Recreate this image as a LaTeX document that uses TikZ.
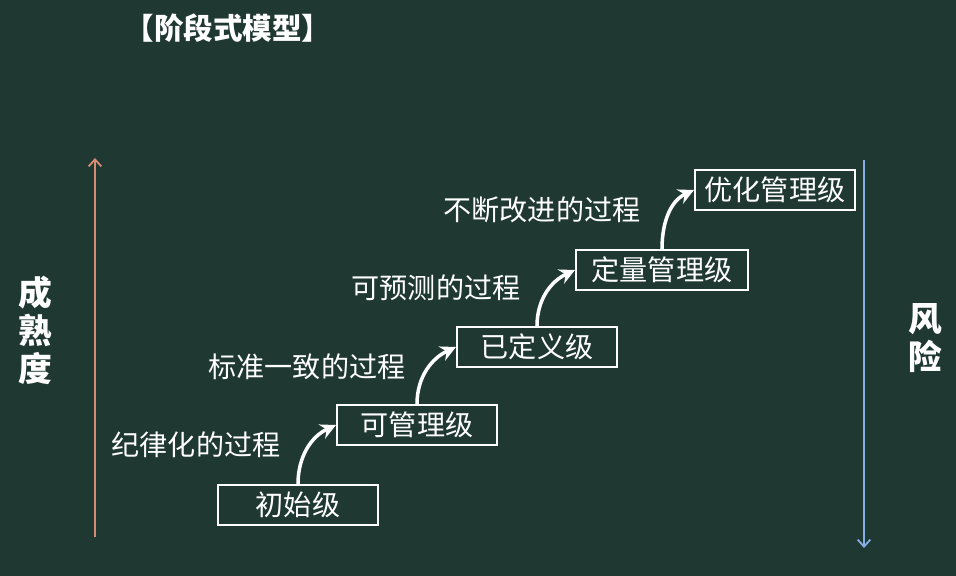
\documentclass[tikz,border=0pt]{standalone}
\usepackage{fontspec}
\newfontfamily\cjk{Noto Sans CJK SC}
\usetikzlibrary{arrows.meta}

\definecolor{board}{HTML}{1F3831}
\definecolor{upline}{HTML}{D68C72}
\definecolor{downline}{HTML}{86AEE6}

\tikzset{
  level/.style={draw=white, line width=1.4pt, minimum width=4cm, minimum height=1cm,
    text=white, font=\cjk\fontsize{20}{20}\selectfont},
  proc/.style={text=white, font=\cjk\fontsize{20}{20}\selectfont},
  axislabel/.style={text=white, align=center, font=\cjk\bfseries\fontsize{24}{27}\selectfont},
  climb/.style={white, line width=2.5pt, -{Stealth[length=11pt,width=11pt]}},
}

\begin{document}
\begin{tikzpicture}[x=0.025cm, y=-0.025cm]
        \fill[board] (0,0) rectangle (956,576);
        \node[text=white, font=\cjk\bfseries\fontsize{21}{21}\selectfont] (title) at (228,28) {【阶段式模型】};
        % levels
        \node[level] (l1) at (298,505) {初始级};
        \node[level] (l2) at (417,425) {可管理级};
        \node[level] (l3) at (537,347) {已定义级};
        \node[level, minimum width=4.3cm] (l4) at (662,270) {定量管理级};
        \node[level] (l5) at (775,190) {优化管理级};
        \draw[climb] (l1.north) to[out=90, in=205] (l2.west);
        \draw[climb] (l2.north) to[out=90, in=205] (l3.west);
        \draw[climb] (l3.north) to[out=90, in=205] (l4.west);
        \draw[climb] (l4.north) to[out=90, in=205] (l5.west);
        \node[proc] (p1) at (196,445) {纪律化的过程};
        \node[proc] (p2) at (307,367) {标准一致的过程};
        \node[proc] (p3) at (436,288) {可预测的过程};
        \node[proc] (p4) at (542,210) {不断改进的过程};
        % axes
        \coordinate (ub) at (95,537);
        \coordinate (ut) at (95,158);
        \draw[upline, line width=1.3pt, -{Straight Barb[length=5pt,width=9pt]}] (ub) -- (ut);
        \coordinate (dt) at (864,160);
        \coordinate (db) at (864,548);
        \draw[downline, line width=1.3pt, -{Straight Barb[length=5pt,width=9pt]}] (dt) -- (db);
        \node[axislabel] (mat) at (35,330) {成\\熟\\度};
        \node[axislabel] (risk) at (925,338) {风\\险};
    \end{tikzpicture}
\end{document}
